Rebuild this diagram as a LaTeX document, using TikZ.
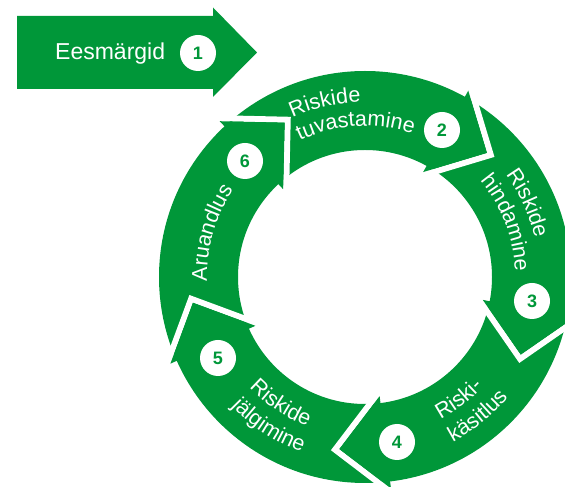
\documentclass[tikz,border=0pt]{standalone}
\usepackage{fontspec}
\setmainfont{Liberation Sans}
\usetikzlibrary{calc,decorations.text}
\definecolor{pgreen}{RGB}{0,151,57}
\newcommand\ringfont{\fontsize{21.5}{24}\selectfont}
\newcommand\ttlfont{\fontsize{23}{26}\selectfont}
\newcommand\numfont{\fontsize{18}{20}\selectfont\bfseries}
\tikzset{
  numc/.style={circle, fill=white, minimum size=36pt, inner sep=0pt, text=pgreen, font=\numfont},
  ringtxt/.style={decorate, decoration={text along path, text color=white, text={|\ringfont|#1}}},
}
\newcommand\cwline[3]{\path[ringtxt={#3}] ($(C)+(#1:#2pt)$) arc[start angle=#1, end angle=#1-80, radius=#2pt];}
\newcommand\ccwline[3]{\path[ringtxt={#3}] ($(C)+(#1:#2pt)$) arc[start angle=#1, end angle=#1+80, radius=#2pt];}
\begin{document}
\begin{tikzpicture}[x=1pt,y=1pt]
\useasboundingbox (0,0) rectangle (565,487);
\coordinate (C) at (365,210);
% ring
\fill[pgreen,even odd rule] (C) circle[radius=206pt] (C) circle[radius=127pt];
\foreach \p in {133,61,-11,-83,-156}{
  \coordinate (Bo) at ($(C)+(\p:213pt)$);
  \coordinate (A) at ($(C)+(\p-15.5:174pt)$);
  \coordinate (Bi) at ($(C)+(\p:120pt)$);
  \coordinate (Eo) at ($(Bo)!-30pt!(A)$);
  \coordinate (Ei) at ($(Bi)!-30pt!(A)$);
  \coordinate (Eoo) at ($(Eo)!6pt!90:(A)$);
  \coordinate (Aoo) at ($(A)!6pt!-90:(Eo)$);
  \coordinate (Aii) at ($(A)!6pt!90:(Ei)$);
  \coordinate (Eii) at ($(Ei)!6pt!-90:(A)$);
  \coordinate (Ap) at (intersection of Eoo--Aoo and Aii--Eii);
  \fill[white] (Eo) -- (A) -- (Ei) -- (Eii) -- (Ap) -- (Eoo) -- cycle;
  \fill[pgreen] (Bo) -- (A) -- (Bi) -- cycle;
}
% title arrow
\fill[pgreen] (17,398) -- (213,398) -- (213,390) -- (257,434.5) -- (213,479.5) -- (213,471) -- (17,471) -- cycle;
\node[anchor=base west, inner sep=0pt, text=white, font=\ttlfont] (t1) at (55,427) {Eesmärgid};
% ring texts
\cwline{114.5}{175}{Riskide}
\cwline{115.5}{151}{tuvastamine}
\cwline{36}{174}{Riskide}
\cwline{40}{150}{hindamine}
\ccwline{-62}{161}{Riski-}
\ccwline{-62}{187}{käsitlus}
\ccwline{223.6}{160}{Riskide}
\ccwline{224}{186}{jälgimine}
\cwline{181.5}{158}{Aruandlus}
% numbers
\node[numc] (n1) at (198,434) {1};
\node[numc] (n2) at (442,357) {2};
\node[numc] (n3) at (532,186) {3};
\node[numc] (n4) at (397,45) {4};
\node[numc] (n5) at (218,129) {5};
\node[numc] (n6) at (245,326) {6};
\end{tikzpicture}
\end{document}
